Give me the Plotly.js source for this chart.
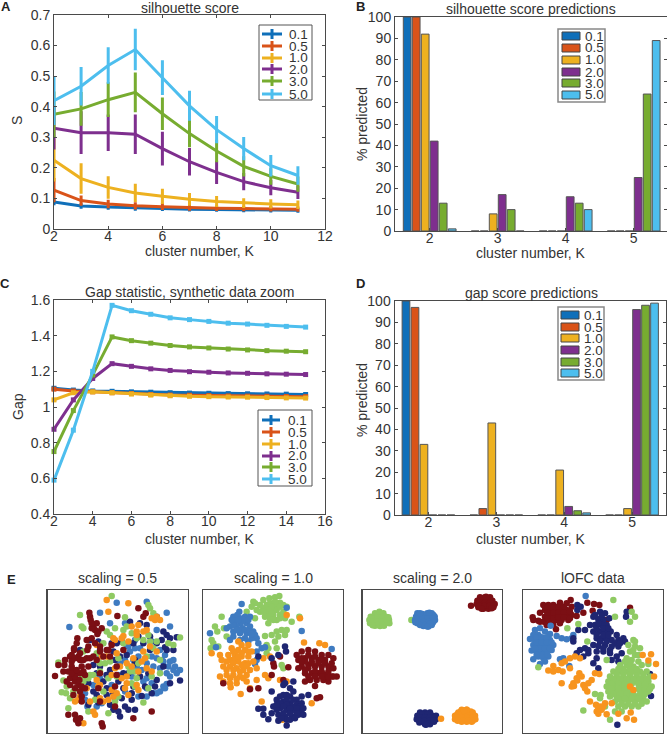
<!DOCTYPE html>
<html><head><meta charset="utf-8">
<script src="https://cdn.plot.ly/plotly-3.0.1.min.js"></script>
<style>html,body{margin:0;padding:0;background:#fff}</style></head>
<body><div id="chart" style="width:667px;height:734px"></div>
<script>
const seriesNames=['0.1','0.5','1.0','2.0','3.0','5.0'];
const seriesColors=['#0f6fb9','#d95319','#edb120','#7e2f8e','#77ac30','#4dbeee'];
const silK=[2,3,4,5,6,7,8,9,10,11];
const sil01=[.088,.075,.072,.069,.067,.065,.064,.063,.062,.061];
const sil05=[.127,.093,.082,.076,.073,.07,.068,.067,.066,.065];
const sil10=[.225,.165,.136,.118,.107,.097,.09,.085,.082,.079];
const sil20=[.33,.315,.315,.31,.263,.22,.185,.155,.135,.12];
const sil30=[.375,.393,.423,.447,.377,.312,.255,.205,.172,.147];
const sil50=[.42,.467,.535,.587,.495,.403,.325,.263,.207,.175];
const silErr01=[.005,.004,.004,.004,.003,.003,.003,.003,.003,.003];
const silErr05=[.035,.012,.009,.007,.006,.005,.004,.004,.004,.004];
const silErr10=[.065,.045,.032,.025,.02,.016,.013,.011,.01,.009];
const silErr20=[.065,.065,.055,.06,.05,.04,.033,.023,.02,.017];
const silErr30=[.07,.05,.052,.06,.048,.04,.032,.028,.022,.02];
const silErr50=[.075,.058,.055,.063,.052,.044,.04,.033,.03,.025];
const gapK=[2,3,4,5,6,7,8,9,10,11,12,13,14,15];
const gap01=[1.105,1.095,1.09,1.088,1.085,1.083,1.08,1.078,1.077,1.075,1.074,1.073,1.072,1.07];
const gap05=[1.1,1.09,1.085,1.08,1.075,1.07,1.067,1.066,1.064,1.062,1.061,1.06,1.059,1.058];
const gap10=[1.04,1.08,1.085,1.08,1.073,1.067,1.063,1.06,1.058,1.056,1.055,1.053,1.051,1.05];
const gap20=[.875,1.04,1.16,1.243,1.228,1.214,1.205,1.198,1.195,1.191,1.189,1.186,1.184,1.182];
const gap30=[.75,.98,1.18,1.393,1.372,1.358,1.345,1.337,1.331,1.325,1.32,1.316,1.313,1.31];
const gap50=[.59,.87,1.2,1.57,1.54,1.52,1.5,1.49,1.48,1.47,1.465,1.458,1.452,1.448];
const barK=[2,3,4,5];
const predS01=[100,0,0,0],predS05=[100,0,0,0],predS10=[92,8,0,0],predS20=[42,17,16,25],predS30=[13,10,13,64],predS50=[1,0,10,89];
const predG01=[100,0,0,0],predG05=[97,3,0,0],predG10=[33,43,21,3],predG20=[0,0,4,96],predG30=[0,0,2,98],predG50=[0,0,1,99];

const clusterColors={blue:'#3f7bc1',navy:'#1f2672',green:'#8fca63',orange:'#f7941e',red:'#7b0f14'};
const a_blue=[[208,201],[300,158],[350,128],[440,125],[500,158],[510,200],[470,210],[495,285],[470,295],[510,305],[525,320],[540,330],[500,340],[460,320],[440,310],[405,265],[390,275],[375,300],[415,290],[425,330],[395,350],[430,365],[490,380],[500,372],[510,350],[460,400],[470,400],[440,410],[415,410],[375,395],[335,375],[300,355],[280,375],[255,420],[262,440],[305,430],[345,420],[375,190],[330,190],[485,300],[520,300],[455,290],[455,245],[480,270],[490,305],[505,320],[530,340],[520,330],[480,325],[450,345],[440,355],[480,395],[495,385],[410,320],[400,300],[385,260],[360,310],[320,345],[355,345],[290,440],[255,400],[405,240],[420,265],[300,290],[455,370],[405,380],[440,385],[380,255]];
const a_navy=[[240,270],[270,240],[295,245],[335,250],[350,250],[365,245],[390,185],[420,190],[440,195],[470,170],[490,215],[510,235],[495,262],[520,270],[470,250],[430,250],[400,250],[380,285],[345,300],[330,330],[300,320],[290,340],[265,370],[245,345],[310,365],[355,365],[385,340],[420,350],[445,340],[470,360],[540,362],[510,370],[465,380],[425,408],[395,400],[365,415],[320,405],[280,395],[265,435],[295,428],[340,450],[375,440],[405,450],[360,470],[385,450],[530,232],[300,270],[360,290],[405,310],[450,270],[415,230],[340,275],[370,340],[320,345],[280,315],[245,300],[490,320],[485,240],[435,380],[455,400],[400,380],[370,385],[340,400],[320,385],[290,405],[450,230],[500,225],[395,420],[355,455],[330,435],[405,300],[500,270]];
const a_green=[[335,108],[240,165],[245,200],[250,205],[375,172],[445,135],[450,145],[460,160],[320,215],[330,225],[345,205],[380,200],[430,240],[450,245],[470,245],[540,233],[175,308],[190,362],[200,380],[185,397],[198,400],[210,415],[205,445],[300,310],[315,310],[330,305],[300,335],[265,355],[270,345],[385,320],[405,335],[480,340],[410,355],[390,335],[440,290],[325,460],[430,428],[345,425],[455,350],[250,275],[310,250],[290,280],[355,295],[370,250],[410,235],[445,225],[480,300],[415,310],[395,370],[350,350],[325,355],[280,345],[250,365],[230,340],[220,395],[245,355],[355,410],[405,380],[445,385],[310,395],[285,420],[265,455],[370,210],[395,220],[460,265],[505,250],[520,255]];
const a_orange=[[320,120],[385,130],[325,155],[395,200],[410,215],[440,210],[455,175],[470,170],[465,180],[370,228],[365,235],[385,245],[290,255],[350,280],[430,275],[435,295],[380,310],[345,325],[415,335],[380,370],[375,385],[415,390],[300,375],[240,410],[225,425],[235,420],[280,455],[285,465],[250,490],[310,425],[325,420],[340,410],[335,390],[295,378],[340,235],[305,290],[320,290],[400,295],[450,260],[470,275],[440,325],[395,320],[360,320],[335,345],[365,355],[455,335],[425,305],[410,375],[385,405],[350,400],[300,415],[270,425],[430,215],[410,225],[480,180],[345,240],[260,385],[290,360],[380,350],[415,195]];
const a_red=[[165,348],[175,315],[193,315],[190,335],[210,290],[215,285],[225,295],[235,290],[240,300],[222,270],[232,235],[230,250],[222,265],[268,158],[270,170],[272,180],[280,200],[285,210],[295,215],[305,205],[275,205],[292,222],[275,235],[265,260],[262,270],[245,320],[250,335],[255,345],[215,320],[218,330],[210,355],[225,365],[235,375],[210,375],[238,360],[225,385],[240,395],[245,410],[205,465],[225,465],[228,480],[235,490],[240,475],[305,490],[308,500],[352,168],[415,145],[430,170],[437,160],[335,255],[320,270],[310,290],[455,455],[400,475],[290,300],[265,320],[345,380],[350,320],[300,425],[255,385],[295,385],[345,440],[215,305],[195,300],[205,335],[225,345],[240,340],[260,295],[250,300],[280,290],[300,260],[285,250],[260,240],[240,280],[270,295],[225,350],[200,365],[245,380],[220,405],[245,425],[290,190],[275,190],[325,270],[350,345],[370,270],[300,275],[300,340],[215,340],[230,330],[330,290]];

const b_green=[[760,125],[765,130],[755,140],[770,150],[790,120],[808,115],[825,112],[838,108],[840,128],[850,135],[860,140],[825,135],[800,135],[790,145],[815,150],[830,150],[850,155],[800,160],[820,165],[840,165],[795,170],[810,175],[830,180],[855,175],[805,190],[875,185],[898,170],[740,155],[765,175],[845,210],[860,210],[830,215],[815,225],[795,228],[835,230],[855,225],[825,245],[800,255],[805,265],[830,265],[845,315],[850,325],[645,200],[652,215],[635,240],[640,250],[632,265],[655,260],[680,230],[672,205],[665,170],[800,280],[810,130],[825,125],[815,140],[840,140],[805,150],[780,135],[780,155],[820,180],[840,175],[850,165],[815,160],[790,155]];
const b_blue=[[718,155],[700,170],[720,175],[735,170],[750,170],[705,185],[722,190],[740,190],[690,200],[710,200],[728,205],[750,200],[700,215],[720,220],[740,220],[760,215],[770,235],[755,235],[775,250],[745,245],[720,240],[700,230],[680,205],[630,220],[648,262],[905,213],[860,143],[785,265],[770,300],[770,275],[795,262],[765,312],[690,240],[995,267],[965,340],[725,132],[712,165],[730,180],[715,180],[745,180],[700,195],[720,210],[735,210],[750,215],[765,225],[735,235],[755,222],[710,210],[695,180]];
const b_orange=[[715,245],[725,255],[745,255],[695,265],[715,270],[735,270],[755,275],[685,285],[705,285],[725,290],[745,290],[660,285],[635,280],[665,300],[690,300],[715,305],[735,310],[760,305],[770,325],[670,320],[690,320],[710,325],[730,330],[750,330],[660,350],[680,345],[700,345],[720,350],[740,345],[770,360],[690,370],[710,370],[740,365],[670,365],[750,385],[692,382],[722,402],[795,345],[805,355],[790,295],[860,165],[900,175],[840,360],[912,248],[958,250],[975,255],[935,430],[848,480],[785,425],[810,290],[860,365],[700,275],[725,280],[745,275],[700,300],[715,290],[680,305],[700,310],[725,315],[745,310],[680,330],[700,330],[720,335],[740,318],[690,355],[710,358],[730,355]];
const b_red=[[890,285],[905,275],[925,270],[945,275],[965,285],[985,285],[895,300],[915,295],[935,295],[955,300],[975,300],[1000,295],[905,320],[925,315],[945,320],[965,320],[985,320],[1000,325],[915,340],[935,340],[955,340],[975,345],[995,350],[1010,350],[930,360],[950,360],[970,360],[985,365],[945,378],[915,365],[820,310],[822,320],[865,322],[895,325],[840,290],[750,388],[775,385],[670,370],[850,360],[815,345],[960,412],[950,415],[905,295],[925,285],[945,290],[965,300],[915,305],[935,310],[955,310],[975,310],[995,310],[925,325],[945,335],[965,335],[985,335],[905,305],[925,350],[945,350],[965,350],[985,352],[1000,350],[935,305],[915,330]];
const b_navy=[[880,365],[855,370],[870,385],[815,395],[880,395],[905,410],[925,405],[850,405],[870,410],[890,420],[830,420],[850,425],[870,430],[890,435],[905,430],[820,440],[840,445],[860,450],[880,450],[900,455],[775,447],[790,447],[815,460],[835,465],[855,470],[875,470],[895,465],[910,465],[790,465],[805,478],[835,483],[860,497],[850,375],[855,260],[858,275],[835,285],[815,295],[775,290],[905,450],[860,480],[860,405],[840,410],[880,420],[860,420],[840,430],[860,435],[880,440],[900,440],[830,450],[850,440],[870,445],[890,445],[850,460],[870,460],[890,460],[830,435],[845,475],[870,480],[885,475],[910,445]];

const c_green=[[105,160],[120,160],[130,160],[92,170],[107,170],[122,170],[137,170],[88,180],[102,180],[117,180],[132,180],[147,180],[90,190],[105,190],[120,190],[135,190],[148,190],[105,197],[120,198],[132,197],[214,180],[97,175],[112,175],[127,175],[142,175],[95,185],[110,185],[125,185],[140,185],[112,165],[125,165],[112,195],[127,195],[98,196],[145,172],[118,155]];
const c_blue=[[232,160],[247,162],[262,160],[275,160],[228,170],[243,170],[258,170],[273,170],[284,170],[225,180],[240,180],[255,180],[270,180],[285,180],[232,190],[247,190],[262,190],[277,190],[250,198],[265,200],[275,195],[235,165],[250,165],[265,165],[280,165],[232,175],[247,175],[262,175],[277,175],[235,185],[250,185],[265,185],[280,185],[240,195],[255,195],[270,190],[262,200],[240,160],[268,158],[226,187]];
const c_red=[[420,112],[435,112],[450,112],[412,122],[427,122],[442,122],[457,122],[410,132],[425,132],[440,132],[455,132],[464,132],[415,142],[430,142],[445,142],[460,142],[430,146],[445,146],[393,137],[428,117],[443,117],[420,127],[435,127],[450,127],[418,137],[433,137],[448,137],[460,138],[438,110],[425,146],[455,145]];
const c_navy=[[240,458],[255,458],[270,458],[232,468],[247,468],[262,468],[277,468],[288,468],[230,478],[245,478],[260,478],[275,478],[288,478],[238,488],[253,488],[268,488],[282,486],[255,493],[270,493],[248,463],[263,463],[240,473],[255,473],[270,473],[283,473],[238,483],[253,483],[268,483],[280,482],[262,490],[258,495]];
const c_orange=[[365,450],[380,450],[355,458],[370,458],[385,458],[398,458],[345,468],[360,468],[375,468],[390,468],[405,468],[345,478],[360,478],[375,478],[390,478],[406,478],[365,486],[380,486],[395,486],[303,477],[362,455],[377,455],[392,455],[352,463],[367,463],[382,463],[397,463],[352,473],[367,473],[382,473],[398,473],[353,483],[368,483],[383,483],[398,483],[380,450],[372,452]];

const d_red=[[610,135],[625,135],[640,135],[660,128],[680,130],[692,120],[695,140],[600,158],[615,150],[630,150],[648,150],[665,145],[680,150],[600,185],[615,170],[630,165],[648,165],[665,165],[680,165],[695,165],[612,185],[630,180],[648,180],[665,180],[685,180],[620,195],[640,195],[660,190],[578,172],[580,180],[595,182],[648,208],[742,128],[762,132],[778,135],[758,152],[730,158],[800,180],[870,143],[710,168],[622,143],[640,143],[655,140],[672,140],[622,158],[640,158],[655,158],[672,158],[690,155],[622,175],[640,175],[655,172],[672,172],[690,175]];
const d_blue=[[632,197],[585,210],[600,205],[615,215],[630,222],[580,225],[595,225],[570,237],[585,240],[600,240],[615,240],[630,240],[650,228],[665,235],[680,238],[695,235],[580,255],[595,258],[610,258],[625,258],[640,255],[575,272],[590,275],[605,275],[620,275],[635,270],[580,298],[595,290],[610,295],[625,290],[615,305],[600,312],[660,298],[670,295],[737,108],[688,318],[700,225],[590,232],[605,232],[620,232],[590,248],[605,248],[620,248],[635,248],[600,265],[615,265],[630,265],[585,265],[608,285],[590,285],[622,283]];
const d_navy=[[712,135],[722,140],[712,150],[780,155],[795,160],[760,170],[775,178],[790,180],[808,175],[860,155],[858,170],[750,195],[765,195],[785,195],[800,195],[735,210],[715,210],[760,215],[778,215],[795,215],[812,215],[830,225],[700,235],[770,235],[785,235],[800,235],[815,240],[835,240],[850,235],[760,255],[775,258],[795,255],[815,260],[835,260],[855,245],[720,270],[735,265],[745,280],[770,275],[790,275],[810,280],[830,290],[845,280],[710,280],[730,290],[770,295],[815,300],[835,305],[760,310],[775,325],[930,342],[933,408],[832,495],[700,245],[770,205],[790,205],[805,205],[770,225],[790,225],[805,225],[825,250],[780,245],[800,245],[840,250],[790,265],[810,270],[765,165],[785,168],[775,190],[745,270]];
const d_orange=[[690,295],[705,290],[720,295],[675,305],[665,310],[640,318],[625,332],[640,335],[655,330],[668,335],[690,325],[718,340],[725,350],[710,355],[700,370],[695,380],[665,370],[730,375],[745,370],[755,360],[735,385],[765,340],[778,342],[742,395],[750,425],[768,435],[780,440],[795,430],[770,455],[775,462],[800,463],[815,430],[870,380],[880,390],[908,285],[933,283],[925,302],[948,312],[942,350],[872,458],[860,475],[882,480],[835,462],[712,362],[702,378],[785,450],[790,440],[775,445]];
const d_green=[[820,120],[875,155],[885,170],[870,185],[825,170],[682,205],[715,192],[742,245],[800,300],[595,322],[880,240],[865,255],[885,260],[900,265],[870,275],[885,285],[860,295],[875,300],[895,305],[840,315],[860,315],[880,320],[905,315],[925,312],[820,335],[840,335],[860,335],[880,335],[900,335],[920,335],[810,350],[830,350],[850,350],[870,350],[890,350],[910,350],[930,350],[805,365],[825,365],[845,365],[865,365],[885,365],[905,365],[925,365],[800,380],[820,380],[840,380],[860,380],[900,380],[920,380],[935,380],[805,395],[825,395],[845,395],[865,395],[905,395],[925,395],[810,410],[830,410],[850,410],[870,410],[890,410],[910,410],[825,425],[845,425],[865,425],[885,425],[905,425],[920,425],[835,440],[855,440],[875,440],[895,440],[825,455],[845,455],[765,402],[782,405],[730,452],[810,480],[780,415],[795,440],[830,342],[850,342],[870,342],[890,342],[910,342],[820,357],[840,357],[860,357],[880,357],[900,357],[920,357],[815,372],[835,372],[855,372],[875,372],[895,372],[915,372],[815,387],[835,387],[855,387],[895,387],[915,387],[930,387],[820,402],[840,402],[860,402],[880,402],[900,402],[915,402],[835,417],[855,417],[875,417],[895,417],[845,432],[865,432],[885,432],[905,432],[850,327],[870,327],[890,327],[835,327],[880,270],[895,285],[870,310],[855,305],[885,245]];

const W=667,H=734;
const dark='#333333', axisCol='#4a4a4a', fontFam='Helvetica, Arial, "Liberation Sans", sans-serif';
const px=v=>v/W, py=v=>1-v/H;
const layout={width:W,height:H,margin:{l:0,r:0,t:0,b:0},paper_bgcolor:'#fff',plot_bgcolor:'#fff',showlegend:false,
  barmode:'group',bargap:0.206,bargroupgap:0.14,font:{family:fontFam,size:14,color:dark},annotations:[],shapes:[]};
const traces=[];
function axes(n,box,xo,yo){
  const s=n===1?'':n;
  const base={showgrid:false,zeroline:false,showline:true,mirror:'ticks',linecolor:axisCol,linewidth:1,ticks:'inside',ticklen:3,tickcolor:axisCol,tickfont:{size:14,color:dark}};
  layout['xaxis'+s]=Object.assign({},base,{domain:[px(box[0]),px(box[1])],anchor:'y'+s,ticklabelstandoff:-6},xo);
  layout['yaxis'+s]=Object.assign({},base,{domain:[py(box[3]),py(box[2])],anchor:'x'+s},yo);
}
function note(text,x,y,opts){layout.annotations.push(Object.assign({text,xref:'paper',yref:'paper',x:px(x),y:py(y),showarrow:false,font:{size:14,color:dark},xanchor:'center',yanchor:'middle'},opts||{}));}
function rect(x0,x1,y0,y1,fill,line,w){layout.shapes.push({type:'rect',xref:'paper',yref:'paper',x0:px(x0),x1:px(x1),y0:py(y0),y1:py(y1),fillcolor:fill,line:{color:line,width:w},layer:'above'});}
function seg(x0,x1,y0,y1,col,w){layout.shapes.push({type:'line',xref:'paper',yref:'paper',x0:px(x0),x1:px(x1),y0:py(y0),y1:py(y1),line:{color:col,width:w},layer:'above'});}
function lineLegend(box,rows,lx0,lx1,tx){
  rect(box[0],box[1],box[2],box[3],'#fff','#555',1);
  rows.forEach((r,i)=>{const c=seriesColors[i];seg(lx0,lx1,r,r,c,3);seg((lx0+lx1)/2,(lx0+lx1)/2,r-5,r+5,c,3);
    note(seriesNames[i],tx,r,{xanchor:'left',font:{size:13.5,color:dark}});});
}
function barLegend(box,rows,sx0,sx1,tx){
  rect(box[0],box[1],box[2],box[3],'#fff','#888',1.5);
  rows.forEach((r,i)=>{rect(sx0,sx1,r-4,r+4,seriesColors[i],'#444',1);
    note(seriesNames[i],tx,r,{xanchor:'left',font:{size:13.5,color:dark}});});
}

// Panel A
axes(1,[54,325,15,229],{range:[2,12],dtick:2,tick0:2},{range:[0,.7],dtick:.1});
[[sil01,silErr01],[sil05,silErr05],[sil10,silErr10],[sil20,silErr20],[sil30,silErr30],[sil50,silErr50]].forEach((d,i)=>{
  traces.push({type:'scatter',mode:'lines',name:seriesNames[i],x:silK,y:d[0],xaxis:'x',yaxis:'y',cliponaxis:false,
    line:{color:seriesColors[i],width:3},error_y:{type:'data',array:d[1],visible:true,color:seriesColors[i],thickness:3,width:1.5}});
});
// Panel B
axes(2,[395,667,17,231],{range:[1.49,5.49],tickvals:barK,ticktext:barK.map(String),mirror:true},{range:[0,100],dtick:10});
[predS01,predS05,predS10,predS20,predS30,predS50].forEach((v,i)=>{
  traces.push({type:'bar',name:seriesNames[i],x:barK,y:v,xaxis:'x2',yaxis:'y2',marker:{color:seriesColors[i],line:{color:'#555',width:1}}});
});
// Panel C
axes(3,[54,325,300,514],{range:[2,16],dtick:2,tick0:2},{range:[.4,1.6],dtick:.2,tick0:.4});
[gap01,gap05,gap10,gap20,gap30,gap50].forEach((v,i)=>{
  traces.push({type:'scatter',mode:'lines+markers',name:seriesNames[i],x:gapK,y:v,xaxis:'x3',yaxis:'y3',cliponaxis:false,
    line:{color:seriesColors[i],width:3},marker:{symbol:'square',size:5,color:seriesColors[i]}});
});
// Panel D
axes(4,[394.5,666,301,515],{range:[1.5,5.5],tickvals:barK,ticktext:barK.map(String),mirror:true},{range:[0,100],dtick:10});
[predG01,predG05,predG10,predG20,predG30,predG50].forEach((v,i)=>{
  traces.push({type:'bar',name:seriesNames[i],x:barK,y:v,xaxis:'x4',yaxis:'y4',marker:{color:seriesColors[i],line:{color:'#555',width:1}}});
});
// Panel E
const scatterPanels=[
 {n:5,box:[47.7,187.7,590,732.5],xr:[143,563],yr:[518,90],title:'scaling = 0.5',sets:[['blue',a_blue],['navy',a_navy],['green',a_green],['orange',a_orange],['red',a_red]]},
 {n:6,box:[203.3,342.7,590,732.5],xr:[610,1028],yr:[518,90],title:'scaling = 1.0',sets:[['green',b_green],['blue',b_blue],['orange',b_orange],['red',b_red],['navy',b_navy]]},
 {n:7,box:[362.7,501.7,590,732.5],xr:[68,485],yr:[518,90],title:'scaling = 2.0',sets:[['green',c_green],['blue',c_blue],['red',c_red],['navy',c_navy],['orange',c_orange]]},
 {n:8,box:[523.3,662.7,590,732.5],xr:[550,968],yr:[518,90],title:'lOFC data',sets:[['red',d_red],['blue',d_blue],['navy',d_navy],['green',d_green],['orange',d_orange]]}];
scatterPanels.forEach(p=>{
  const off={showticklabels:false,ticks:'',mirror:true,linecolor:axisCol,linewidth:1.5,ticklabelstandoff:0};
  axes(p.n,p.box,Object.assign({},off,{range:p.xr}),Object.assign({},off,{range:p.yr}));
  p.sets.forEach(s=>traces.push({type:'scatter',mode:'markers',name:s[0],x:s[1].map(q=>q[0]),y:s[1].map(q=>q[1]),xaxis:'x'+p.n,yaxis:'y'+p.n,
    marker:{size:6.5,color:clusterColors[s[0]]}}));
  note(p.title,(p.box[0]+p.box[1])/2,578);
});
// Titles
note('silhouette score',190,8);
note('silhouette score predictions',531,9);
note('Gap statistic, synthetic data zoom',189,292);
note('gap score predictions',531,293);
[[200,251],[531,253],[200,539],[531,539]].forEach(p=>note('cluster number, K',p[0],p[1]));
note('S',17,121,{textangle:-90});
note('% predicted',362,124,{textangle:-90});
note('Gap',18,407,{textangle:-90});
note('% predicted',362,400,{textangle:-90});
[['A',6,6],['B',360,6],['C',5,284],['D',360,284],['E',12,579]].forEach(l=>note('<b>'+l[0]+'</b>',l[1],l[2],{font:{size:13,color:'#222',family:fontFam}}));
// Legends
lineLegend([259,312,25,100],[34,46,58,69,81,94],262,282,287);
lineLegend([258,312,410,486],[420,432,444,456,467,479],262,280,286);
barLegend([558,605,29,102],[36,48,60,72,83,95],562,580,583);
barLegend([558,604,307,380],[315,327,338,350,362,373],561,579,582);
Plotly.newPlot('chart',traces,layout,{displayModeBar:false,staticPlot:true});
</script></body></html>
